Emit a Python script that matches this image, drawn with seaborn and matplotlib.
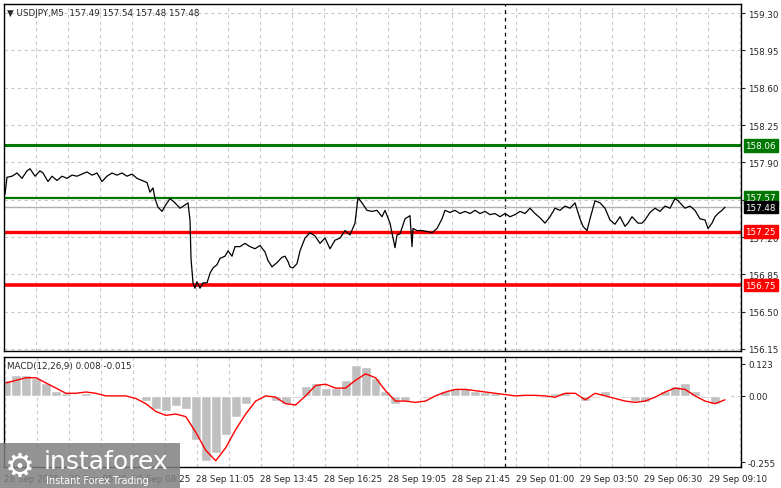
import matplotlib
matplotlib.use("Agg")
import matplotlib.pyplot as plt
import matplotlib.transforms as mtrans
from matplotlib.patches import Rectangle
import numpy as np
import pandas as pd
import seaborn as sns

# ── Datos ─────────────────────────────────────────────────────────────────────
price_bar = [5, 7, 12, 17, 22, 27, 30, 35, 40, 43, 48, 52, 57, 62, 67, 72, 77, 82, 87, 92,
             97, 102, 107, 112, 117, 122, 127, 132, 137, 142, 147, 150, 153, 155, 158, 162,
             165, 170, 175, 180, 185, 188, 190, 191, 193, 195, 197, 200, 203, 207, 210, 213,
             217, 220, 225, 228, 232, 235, 240, 245, 250, 255, 260, 265, 268, 272, 277, 282,
             285, 288, 290, 293, 297, 300, 305, 310, 315, 320, 325, 330, 335, 340, 345, 350,
             355, 358, 362, 367, 372, 377, 382, 385, 390, 393, 395, 397, 400, 405, 410, 412,
             413, 417, 422, 428, 432, 437, 442, 445, 450, 455, 460, 465, 470, 475, 480, 485,
             490, 495, 500, 505, 510, 515, 520, 525, 530, 535, 540, 545, 550, 555, 560, 565,
             570, 575, 580, 583, 587, 590, 595, 600, 605, 610, 615, 620, 625, 628, 632, 638,
             642, 645, 650, 655, 660, 665, 670, 675, 678, 685, 690, 695, 700, 705, 708, 712,
             715, 718, 722, 725]
price_close = [157.60, 157.76, 157.77, 157.80, 157.75, 157.82, 157.84, 157.77, 157.82, 157.80,
               157.72, 157.77, 157.73, 157.77, 157.75, 157.78, 157.77, 157.79, 157.81, 157.78,
               157.80, 157.72, 157.77, 157.80, 157.78, 157.80, 157.77, 157.79, 157.75, 157.73,
               157.71, 157.62, 157.66, 157.56, 157.48, 157.44, 157.49, 157.56, 157.52, 157.47,
               157.50, 157.52, 157.36, 157.00, 156.77, 156.72, 156.78, 156.72, 156.77, 156.77,
               156.86, 156.91, 156.94, 157.00, 157.02, 157.07, 157.02, 157.11, 157.11, 157.14,
               157.11, 157.09, 157.12, 157.06, 156.98, 156.92, 156.96, 157.01, 157.02, 156.97,
               156.92, 156.91, 156.95, 157.07, 157.19, 157.24, 157.21, 157.14, 157.19, 157.09,
               157.17, 157.19, 157.26, 157.22, 157.33, 157.57, 157.52, 157.45, 157.44, 157.45,
               157.39, 157.45, 157.33, 157.19, 157.10, 157.22, 157.23, 157.37, 157.40, 157.11,
               157.28, 157.26, 157.26, 157.25, 157.24, 157.28, 157.37, 157.45, 157.43, 157.45,
               157.42, 157.44, 157.42, 157.45, 157.42, 157.44, 157.41, 157.42, 157.39, 157.42,
               157.39, 157.41, 157.44, 157.42, 157.47, 157.42, 157.38, 157.33, 157.39, 157.47,
               157.45, 157.49, 157.47, 157.52, 157.37, 157.30, 157.26, 157.37, 157.54, 157.52,
               157.47, 157.36, 157.32, 157.39, 157.30, 157.33, 157.39, 157.33, 157.33, 157.36,
               157.43, 157.47, 157.44, 157.49, 157.47, 157.56, 157.54, 157.47, 157.49, 157.45,
               157.37, 157.36, 157.28, 157.33, 157.39, 157.42, 157.45, 157.48]

macd_bar = list(range(5, 726, 10))
macd_hist = [0.06, 0.08, 0.08, 0.07, 0.05, 0.02, 0.01, 0.005, 0.01, 0.0, 0.0, 0.005, 0.0,
             -0.005, -0.02, -0.05, -0.06, -0.04, -0.05, -0.17, -0.25, -0.22, -0.15, -0.08,
             -0.03, 0.0, 0.005, -0.02, -0.03, -0.01, 0.04, 0.05, 0.03, 0.03, 0.06, 0.12, 0.11,
             0.07, 0.02, -0.03, -0.02, -0.005, -0.01, 0.0, 0.02, 0.03, 0.03, 0.02, 0.015, 0.01,
             0.005, 0.0, 0.005, 0.0, -0.01, 0.01, 0.015, 0.0, -0.02, -0.01, 0.02, 0.0, -0.01,
             -0.02, -0.025, 0.0, 0.02, 0.04, 0.05, 0.02, -0.01, -0.03, 0.005]
macd_signal = [0.05, 0.06, 0.07, 0.07, 0.05, 0.03, 0.01, 0.01, 0.015, 0.01, 0.0, 0.0, 0.0,
               -0.01, -0.03, -0.06, -0.075, -0.07, -0.08, -0.14, -0.21, -0.25, -0.2, -0.13,
               -0.07, -0.02, 0.0, -0.005, -0.03, -0.035, 0.0, 0.04, 0.045, 0.03, 0.03, 0.06,
               0.085, 0.07, 0.02, -0.02, -0.02, -0.025, -0.02, 0.0, 0.015, 0.025, 0.025, 0.02,
               0.015, 0.01, 0.005, 0.0, 0.002, 0.002, 0.0, -0.005, 0.01, 0.01, -0.015, 0.01,
               0.0, -0.01, -0.02, -0.025, -0.02, -0.005, 0.015, 0.03, 0.025, 0.0, -0.02, -0.03,
               -0.015]

price_ticks = [156.15, 156.50, 156.85, 157.20, 157.55, 157.90, 158.25, 158.60, 158.95, 159.30]
macd_ticks = [-0.255, 0.0, 0.123]
macd_tick_labels = ["-0.255", "0.00", "0.123"]
time_ticks = [3, 68, 131, 195, 259, 323, 388, 452, 516, 580, 644, 709]
time_labels = ["28 Sep 2025", "28 Sep 05:45", "28 Sep 08:25", "28 Sep 11:05", "28 Sep 13:45",
               "28 Sep 16:25", "28 Sep 19:05", "28 Sep 21:45", "29 Sep 01:00", "29 Sep 03:50",
               "29 Sep 06:30", "29 Sep 09:10"]
grid_x = list(range(4, 741, 32))
session_sep = 505

levels = [158.06, 157.57, 157.25, 156.75]
level_colors = ["#007700", "#007700", "#ff0000", "#ff0000"]
level_widths = [2.2, 1.6, 2.4, 2.6]
last_price = 157.48

sns.set_style("white")
plt.rcParams["font.family"] = ["DejaVu Sans"]
FS = 6.3

fig = plt.figure(figsize=(7.81, 4.89), dpi=100)
W, H = 781, 489
x0, x1 = 4, 741
ax = fig.add_axes([x0 / W, 1 - 352 / H, (x1 - x0) / W, 347 / H])
axm = fig.add_axes([x0 / W, 1 - 468 / H, (x1 - x0) / W, 110 / H])

px = 0.00938
for a in (ax, axm):
    a.set_xlim(x0, x1)
    for gx in grid_x:
        a.axvline(gx, color="#c8c8c8", ls=(0, (3, 3)), lw=0.8, zorder=0)
    a.axvline(session_sep, color="black", ls=(0, (3, 3)), lw=0.9, zorder=1)
    for s in a.spines.values():
        s.set_color("black")
        s.set_linewidth(1)
    a.yaxis.tick_right()
    a.tick_params(axis="y", length=3, labelsize=FS, pad=2, right=True)
    a.tick_params(axis="x", length=0)

# ── Panel de precio ──────────────────────────────────────────────────────────
ax.set_ylim(156.15 - 2 * px, 159.30 + 9 * px)
ax.set_yticks(price_ticks)
ax.set_yticklabels([f"{t:.2f}" for t in price_ticks])
ax.set_xticks([])
for t in price_ticks:
    ax.axhline(t, color="#c8c8c8", ls=(0, (3, 3)), lw=0.8, zorder=0)
ax.axhline(last_price, color="#b0b0b0", lw=1, zorder=1)

df = pd.DataFrame({"bar": price_bar, "close": price_close})
sns.lineplot(data=df, x="bar", y="close", ax=ax, color="black", lw=0.9, zorder=3)
ax.set_xlabel("")
ax.set_ylabel("")

trans = mtrans.blended_transform_factory(ax.transAxes, ax.transData)
for lv, c, w in zip(levels, level_colors, level_widths):
    ax.axhline(lv, color=c, lw=w, zorder=2)
    ax.text(1.006, lv, f"{lv:.2f}", transform=trans, color="white", fontsize=FS,
            va="center", ha="left",
            bbox=dict(boxstyle="square,pad=0.2", fc=c, ec=c), clip_on=False, zorder=5)
ax.text(1.006, last_price, f"{last_price:.2f}", transform=trans, color="white", fontsize=FS,
        va="center", ha="left", bbox=dict(boxstyle="square,pad=0.2", fc="black", ec="black"),
        clip_on=False, zorder=5)
ax.text(0.004, 0.988, "▼ USDJPY,M5  157.49 157.54 157.48 157.48", transform=ax.transAxes,
        fontsize=FS, va="top", ha="left")

# ── Panel MACD ───────────────────────────────────────────────────────────────
axm.set_ylim(-0.255 - 5 * 0.003857, 0.123 + 7 * 0.003857)
axm.set_yticks(macd_ticks)
axm.set_yticklabels(macd_tick_labels)
axm.axhline(0, color="#c8c8c8", ls=(0, (3, 3)), lw=0.8, zorder=0)
axm.bar(macd_bar, macd_hist, width=10, color="#c0c0c0", zorder=2)
dm = pd.DataFrame({"bar": macd_bar, "signal": macd_signal})
sns.lineplot(data=dm, x="bar", y="signal", ax=axm, color="red", lw=1, zorder=3)
axm.set_xlabel("")
axm.set_ylabel("")
axm.set_xticks(time_ticks)
axm.set_xticklabels(time_labels, fontsize=FS, ha="left")
axm.tick_params(axis="x", pad=5)
axm.text(0.004, 0.96, "MACD(12,26,9) 0.008 -0.015", transform=axm.transAxes,
         fontsize=FS, va="top", ha="left")

# ── Logo ─────────────────────────────────────────────────────────────────────
fig.patches.append(Rectangle((0, 0), 180 / W, 45 / H, transform=fig.transFigure,
                             fc="#808080", alpha=0.85, ec="none", zorder=10))
fig.text(44 / W, 27 / H, "instaforex", color="white", fontsize=18, va="center",
         ha="left", zorder=11)
fig.text(46 / W, 8 / H, "Instant Forex Trading", color="white", fontsize=7, va="center",
         ha="left", zorder=11)
fig.text(5 / W, 22 / H, "⚙", color="white", fontsize=24, va="center", ha="left", zorder=11)

fig.savefig("out.png", dpi=100)
